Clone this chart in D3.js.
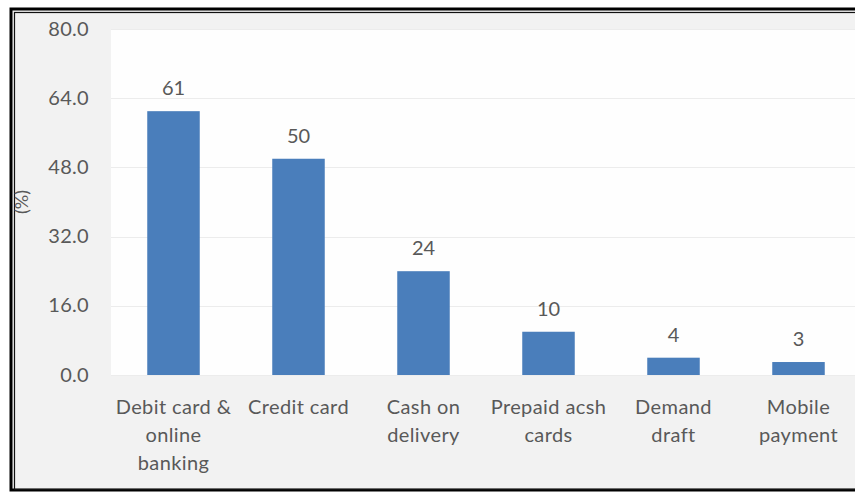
<!DOCTYPE html>
<html lang="en">
<head>
<meta charset="utf-8" />
<title>Payment modes</title>
<script src="https://d3js.org/d3.v7.min.js"></script>
<style>
  body { margin: 0; background: #fff; }
  svg text { font-family: Lato, "Open Sans", sans-serif; fill: #595959; }
</style>
</head>
<body>
<svg width="855" height="494"></svg>
<script>
// chart data
var categories = [
  ["Debit card &", "online", "banking"],
  ["Credit card"],
  ["Cash on", "delivery"],
  ["Prepaid acsh", "cards"],
  ["Demand", "draft"],
  ["Mobile", "payment"]
];
var values = [61, 50, 24, 10, 4, 3];
var yTicks = [0, 16, 32, 48, 64, 80];

var svg = d3.select("svg");

// grey frame background + double border
svg.append("rect")
  .attr("x", 11).attr("y", 9).attr("width", 860).attr("height", 481)
  .attr("fill", "#f2f2f2")
  .attr("stroke", "#000").attr("stroke-width", 3);
svg.append("rect")
  .attr("x", 14.5).attr("y", 12.5).attr("width", 860).attr("height", 477)
  .attr("fill", "none")
  .attr("stroke", "#111").attr("stroke-width", 1.2);

var plot = { left: 111, right: 861, top: 29, bottom: 375 };

// white plot area
svg.append("rect")
  .attr("x", plot.left).attr("y", plot.top)
  .attr("width", plot.right - plot.left).attr("height", plot.bottom - plot.top)
  .attr("fill", "#fefefe");

var x = d3.scaleBand()
  .domain(d3.range(categories.length))
  .range([plot.left, plot.right])
  .paddingInner(0.58)
  .paddingOuter(0.29);

var y = d3.scaleLinear().domain([0, 80]).range([plot.bottom, plot.top]);

// gridlines
svg.append("g")
  .selectAll("line")
  .data(yTicks)
  .enter()
  .append("line")
  .attr("x1", plot.left).attr("x2", plot.right)
  .attr("y1", function (d) { return Math.round(y(d)) + 0.5; })
  .attr("y2", function (d) { return Math.round(y(d)) + 0.5; })
  .attr("stroke", "#ececec");

// y axis labels
var yAxis = svg.append("g")
  .attr("transform", "translate(" + (plot.left - 22) + ",0)")
  .call(d3.axisLeft(y).tickValues(yTicks).tickSize(0).tickPadding(0)
    .tickFormat(d3.format(".1f")));
yAxis.select(".domain").remove();
yAxis.selectAll("text")
  .attr("font-size", 20)
  .attr("dy", "0.3em")
  .attr("letter-spacing", 0.3)
  .attr("font-family", "Lato, sans-serif")
  .attr("fill", "#595959");

svg.append("text")
  .attr("transform", "translate(28,202) rotate(-90)")
  .attr("text-anchor", "middle")
  .attr("font-size", 18)
  .text("(%)");

// bars
svg.append("g")
  .selectAll("rect")
  .data(values)
  .enter()
  .append("rect")
  .attr("x", function (d, i) { return x(i); })
  .attr("width", x.bandwidth())
  .attr("y", function (d) { return y(d); })
  .attr("height", function (d) { return y(0) - y(d); })
  .attr("fill", "#4a7ebb");

// value labels
svg.append("g")
  .selectAll("text")
  .data(values)
  .enter()
  .append("text")
  .attr("x", function (d, i) { return x(i) + x.bandwidth() / 2; })
  .attr("y", function (d) { return y(d) - 16; })
  .attr("text-anchor", "middle")
  .attr("font-size", 20)
  .attr("fill", "#404040")
  .text(function (d) { return d; });

// category labels
var cat = svg.append("g")
  .selectAll("text")
  .data(categories)
  .enter()
  .append("text")
  .attr("text-anchor", "middle")
  .attr("font-size", 20)
  .attr("letter-spacing", 0.4)
  .attr("x", function (d, i) { return x(i) + x.bandwidth() / 2; })
  .attr("y", 414);
cat.selectAll("tspan")
  .data(function (d) { return d; })
  .enter()
  .append("tspan")
  .attr("x", function () { return this.parentNode.getAttribute("x"); })
  .attr("dy", function (d, i) { return i ? 28 : 0; })
  .text(function (d) { return d; });
</script>
</body>
</html>
